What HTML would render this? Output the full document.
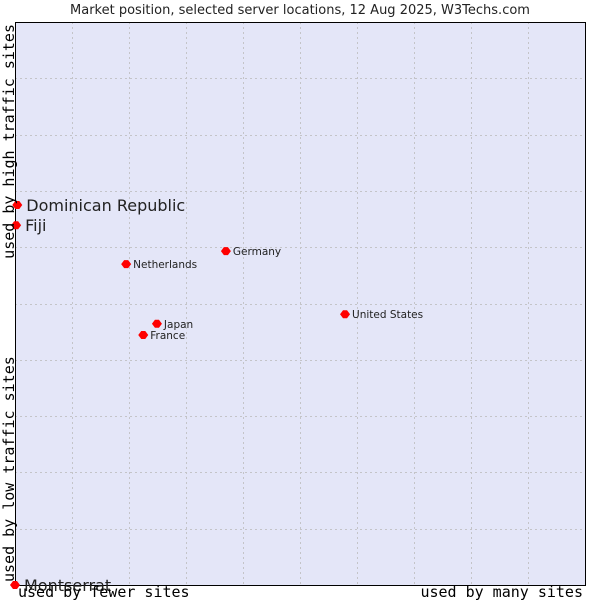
<!DOCTYPE html>
<html><head><meta charset="utf-8"><style>
body{margin:0;background:#fff;}
svg{display:block;}
</style></head><body>
<svg id="chart" width="600" height="600" xmlns="http://www.w3.org/2000/svg">
<text x="300" y="14" text-anchor="middle" font-family="DejaVu Sans, sans-serif" font-size="13" fill="#222">Market position, selected server locations, 12 Aug 2025, W3Techs.com</text>
<rect x="15" y="22" width="570" height="563" fill="#e4e6f8"/>
<g id="grid"></g>
<rect x="15.5" y="22.5" width="570" height="563" fill="none" stroke="#000" stroke-width="1"/>
<g id="points"></g>
<text x="18" y="597" font-family="DejaVu Sans Mono, monospace" font-size="15" fill="#000">used by fewer sites</text>
<text x="583" y="597" text-anchor="end" font-family="DejaVu Sans Mono, monospace" font-size="15" fill="#000">used by many sites</text>
<text transform="translate(14,582) rotate(-90)" font-family="DejaVu Sans Mono, monospace" font-size="15" fill="#000">used by low traffic sites</text>
<text transform="translate(14,24) rotate(-90)" text-anchor="end" font-family="DejaVu Sans Mono, monospace" font-size="15" fill="#000">used by high traffic sites</text>
</svg>
<script>
const names=["Dominican Republic","Fiji","Netherlands","Germany","United States","Japan","France","Montserrat"];
const xVals=[0.04,0.02,1.95,3.70,5.79,2.49,2.25,0];
const yVals=[6.75,6.39,5.70,5.93,4.81,4.64,4.44,0];
const bigLabel=[true,true,false,false,false,false,false,true];
const NS="http://www.w3.org/2000/svg";
const X0=15,X1=585,Y0=585,Y1=22;
const sx=v=>X0+(X1-X0)*v/10, sy=v=>Y0-(Y0-Y1)*v/10;
const grid=document.getElementById('grid');
for(let i=1;i<10;i++){
 const v=document.createElementNS(NS,'line');
 
 
 const x=Math.round(sx(i))+0.5;
 v.setAttribute('x1',x);v.setAttribute('x2',x);v.setAttribute('y1',Y1);v.setAttribute('y2',Y0);
 v.setAttribute('stroke','#c4c4c8');v.setAttribute('stroke-dasharray','2,3');grid.appendChild(v);
 const h=document.createElementNS(NS,'line');
 
 
 const y=Math.round(sy(i))+0.5;
 h.setAttribute('x1',X0);h.setAttribute('x2',X1);h.setAttribute('y1',y);h.setAttribute('y2',y);
 h.setAttribute('stroke','#c4c4c8');h.setAttribute('stroke-dasharray','2,3');grid.appendChild(h);
}
const pts=document.getElementById('points');
names.forEach((n,i)=>{
 const x=sx(xVals[i]),y=sy(yVals[i]);
 const d=document.createElementNS(NS,'path');
 
 
 d.setAttribute('d',`M${x-5} ${y} L${x-2} ${y-4} L${x+2} ${y-4} L${x+5} ${y} L${x+2} ${y+4} L${x-2} ${y+4}Z`);
 d.setAttribute('fill','#f00');pts.appendChild(d);
 const t=document.createElementNS(NS,'text');
 
 
 const big=bigLabel[i];
 t.setAttribute('x',x+(big?9:7));t.setAttribute('y',y+(big?6:4));
 t.setAttribute('font-family','DejaVu Sans, sans-serif');
 t.setAttribute('font-size',big?'16':'10.5');
 t.setAttribute('fill','#222');
 t.textContent=n;pts.appendChild(t);
});
</script>
</body></html>
